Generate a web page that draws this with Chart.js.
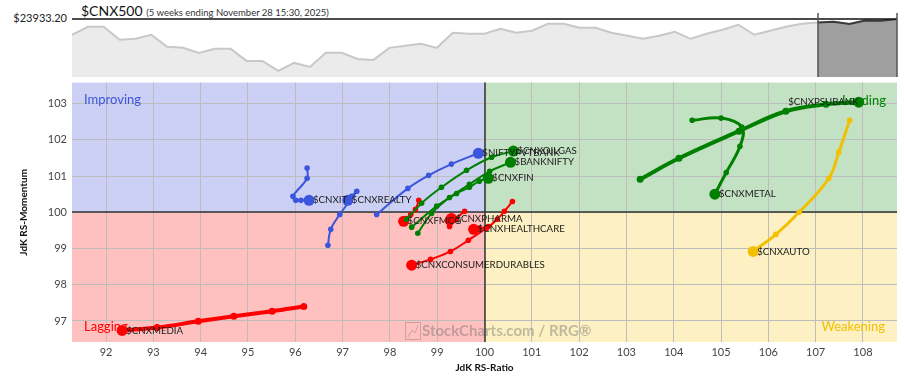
<!DOCTYPE html>
<html>
<head>
<meta charset="utf-8">
<script src="https://cdn.jsdelivr.net/npm/chart.js@4.4.1/dist/chart.umd.min.js"></script>
<style>
  body { margin: 0; width: 904px; height: 376px; background: #fff; font-family: Lato, sans-serif; position: relative; overflow: hidden; }
  #priceBox { position: absolute; left: 72px; top: 7px; width: 827px; height: 70px; }
  #rrgBox { position: absolute; left: 0; top: 71px; width: 904px; height: 305px; }
  .title { position: absolute; left: 81px; top: 2px; font-size: 14px; line-height: 17px; color: #111; white-space: nowrap; }
  .title small { font-size: 9.5px; color: #333; }
  .last { position: absolute; right: 837px; top: 11px; font-size: 11px; line-height: 13px; color: #222; }
</style>
</head>
<body>
<div class="title">$CNX500 <small>(5 weeks ending November 28 15:30, 2025)</small></div>
<div class="last">$23933.20</div>
<div id="priceBox"><canvas id="priceChart"></canvas></div>
<div id="rrgBox"><canvas id="rrgChart"></canvas></div>
<script>
// weekly closes of $CNX500 for the strip on top
const priceValues = [22715, 23336, 23336, 22327, 22404, 22715, 21783, 21706, 21318, 21628,
    21628, 20697, 20697, 19921, 20542, 20232, 21318, 21318, 20852, 20775,
    21706, 21861, 22016, 21706, 22870, 22793, 22793, 23181, 22870, 23025,
    23569, 23569, 23258, 23258, 22870, 22637, 22404, 22637, 22948, 22404,
    22793, 23103, 23491, 22715, 23025, 23336, 23569, 23670, 23724, 23545,
    23825, 23801, 23933.2];
const recentStart = 47; // start of the 5 week window (dark part)

// RRG tails, oldest -> latest
const symbols = ['$CNXIT', '$CNXREALTY', '$NIFTYPVTBANK', '$CNXOILGAS', '$BANKNIFTY', '$CNXFIN', '$CNXFMCG',
    '$CNXPHARMA', '$CNXHEALTHCARE', '$CNXCONSUMERDURABLES', '$CNXMEDIA', '$CNXPSUBANK', '$CNXMETAL', '$CNXAUTO'];

const itRatio = [96.25, 96.25, 95.95, 96.01, 96.12, 96.29];
const itMomentum = [101.22, 100.94, 100.44, 100.33, 100.33, 100.33];
const realtyRatio = [96.69, 96.75, 96.94, 97.30, 97.19, 97.11];
const realtyMomentum = [99.09, 99.53, 99.94, 100.58, 100.44, 100.33];
const pvtBankRatio = [97.72, 98.38, 98.82, 99.30, 99.87];
const pvtBankMomentum = [99.94, 100.66, 101.02, 101.33, 101.63];
const oilGasRatio = [98.35, 98.67, 99.09, 99.62, 100.15, 100.61];
const oilGasMomentum = [99.81, 100.25, 100.69, 101.16, 101.52, 101.69];
const bankNiftyRatio = [98.59, 98.88, 99.26, 99.68, 100.11, 100.55];
const bankNiftyMomentum = [99.42, 99.97, 100.41, 100.77, 101.13, 101.38];
const finRatio = [98.46, 98.99, 99.41, 99.68, 99.89, 100.08];
const finMomentum = [99.59, 100.17, 100.52, 100.69, 100.86, 100.94];
const fmcgRatio = [98.61, 98.54, 98.44, 98.35, 98.29];
const fmcgMomentum = [100.33, 100.08, 99.94, 99.83, 99.75];
const pharmaRatio = [99.58, 99.39, 99.26, 99.22, 99.30];
const pharmaMomentum = [100.03, 99.81, 99.61, 99.75, 99.83];
const healthRatio = [100.59, 100.42, 100.27, 100.08, 99.89, 99.77];
const healthMomentum = [100.30, 100.03, 99.81, 99.61, 99.56, 99.53];
const durablesRatio = [100.04, 99.66, 99.28, 98.86, 98.46];
const durablesMomentum = [99.56, 99.23, 98.92, 98.70, 98.54];
const mediaRatio = [96.18, 95.51, 94.70, 93.95, 93.08, 92.34];
const mediaMomentum = [97.40, 97.27, 97.13, 96.99, 96.82, 96.74];
const psuBankRatio = [103.29, 104.11, 105.38, 106.37, 107.22, 107.91];
const psuBankMomentum = [100.91, 101.49, 102.24, 102.79, 102.98, 103.04];
const metalRatio = [104.39, 105.00, 105.44, 105.40, 105.11, 104.87];
const metalMomentum = [102.54, 102.60, 102.35, 101.82, 101.10, 100.50];
const autoRatio = [107.72, 107.49, 107.28, 106.65, 106.16, 105.68];
const autoMomentum = [102.54, 101.66, 100.94, 100.00, 99.39, 98.92];

const ratios = [itRatio, realtyRatio, pvtBankRatio, oilGasRatio, bankNiftyRatio, finRatio, fmcgRatio,
    pharmaRatio, healthRatio, durablesRatio, mediaRatio, psuBankRatio, metalRatio, autoRatio];
const momentums = [itMomentum, realtyMomentum, pvtBankMomentum, oilGasMomentum, bankNiftyMomentum, finMomentum, fmcgMomentum,
    pharmaMomentum, healthMomentum, durablesMomentum, mediaMomentum, psuBankMomentum, metalMomentum, autoMomentum];
const lineWidths = [2, 2, 2, 2, 2, 2, 2, 2, 2, 2, 4, 4, 3, 3];

const xTicks = [92, 93, 94, 95, 96, 97, 98, 99, 100, 101, 102, 103, 104, 105, 106, 107, 108];
const yTicks = [97, 98, 99, 100, 101, 102, 103];

function quadrantColor(r, m) {
    if (r < 100 && m >= 100) return '#3b55dd'; // improving
    if (r >= 100 && m >= 100) return '#008000'; // leading
    if (r < 100) return '#ff0000'; // lagging
    return '#f2c000'; // weakening
}

// ---- price strip ----
const priceFrame = {
    id: 'priceFrame',
    afterDatasetsDraw(chart) {
        const { ctx, chartArea: a, scales: { x } } = chart;
        ctx.save();
        ctx.strokeStyle = '#111';
        ctx.lineWidth = 1.3;
        ctx.beginPath();
        ctx.moveTo(0, a.top);
        ctx.lineTo(a.right, a.top);
        ctx.stroke();
        ctx.strokeStyle = '#555';
        ctx.lineWidth = 1.5;
        [recentStart, priceValues.length - 1].forEach(i => {
            const px = Math.round(x.getPixelForValue(i));
            ctx.beginPath();
            ctx.moveTo(px, a.top - 6);
            ctx.lineTo(px, a.bottom);
            ctx.stroke();
        });
        ctx.restore();
    }
};

new Chart(document.getElementById('priceChart'), {
    type: 'line',
    data: {
        labels: priceValues.map((v, i) => i),
        datasets: [{
            data: priceValues.map((v, i) => i >= recentStart ? v : null),
            borderColor: '#3a3a3a',
            borderWidth: 2,
            backgroundColor: '#9f9f9f',
            fill: 'start',
            pointRadius: 0,
            tension: 0
        }, {
            data: priceValues,
            borderColor: '#c8c8c8',
            borderWidth: 2,
            backgroundColor: '#ebebeb',
            fill: 'start',
            pointRadius: 0,
            tension: 0
        }]
    },
    options: {
        responsive: true,
        maintainAspectRatio: false,
        animation: false,
        layout: { padding: { top: 12, right: 2 } },
        plugins: { legend: { display: false }, tooltip: { enabled: false } },
        scales: {
            x: { display: false, offset: false },
            y: { display: false, min: 19455, max: 23933.2 }
        }
    },
    plugins: [priceFrame]
});

// ---- RRG ----
const rrgDecor = {
    id: 'rrgDecor',
    beforeDraw(chart) {
        const { ctx, chartArea: a, scales: { x, y } } = chart;
        const cx = x.getPixelForValue(100), cy = y.getPixelForValue(100);
        ctx.save();
        ctx.fillStyle = '#ccd0f5';
        ctx.fillRect(a.left, a.top, cx - a.left, cy - a.top);
        ctx.fillStyle = '#c3e1c3';
        ctx.fillRect(cx, a.top, a.right - cx, cy - a.top);
        ctx.fillStyle = '#ffc0c0';
        ctx.fillRect(a.left, cy, cx - a.left, a.bottom - cy);
        ctx.fillStyle = '#fdf0c2';
        ctx.fillRect(cx, cy, a.right - cx, a.bottom - cy);
        ctx.restore();
    },
    beforeDatasetsDraw(chart) {
        const { ctx, chartArea: a, scales: { x, y } } = chart;
        const cx = Math.round(x.getPixelForValue(100)), cy = Math.round(y.getPixelForValue(100));
        ctx.save();
        ctx.strokeStyle = '#333';
        ctx.lineWidth = 1.5;
        ctx.beginPath();
        ctx.moveTo(cx, a.top); ctx.lineTo(cx, a.bottom);
        ctx.moveTo(a.left, cy); ctx.lineTo(a.right, cy);
        ctx.stroke();

        ctx.font = '13px Lato';
        ctx.textBaseline = 'middle';
        ctx.textAlign = 'left';
        ctx.fillStyle = '#3b55dd';
        ctx.fillText('Improving', a.left + 12, a.top + 17);
        ctx.fillStyle = '#ff0000';
        ctx.fillText('Lagging', a.left + 12, a.bottom - 15);
        ctx.textAlign = 'right';
        ctx.fillStyle = '#008000';
        ctx.fillText('Leading', a.right - 11, a.top + 18);
        ctx.fillStyle = '#f2c000';
        ctx.fillText('Weakening', a.right - 12, a.bottom - 15);

        // watermark
        const wx = cx - 80, wy = a.bottom - 11;
        ctx.globalAlpha = 0.4;
        ctx.strokeStyle = '#777';
        ctx.lineWidth = 1;
        ctx.strokeRect(wx + 0.5, wy - 8.5, 15, 17);
        ctx.beginPath();
        ctx.moveTo(wx + 3, wy + 6); ctx.lineTo(wx + 7, wy - 1); ctx.lineTo(wx + 10, wy + 2); ctx.lineTo(wx + 13, wy - 6);
        ctx.stroke();
        ctx.fillStyle = '#666';
        ctx.textAlign = 'left';
        ctx.font = 'bold 15px Lato';
        ctx.fillText('StockCharts.com / RRG\u00ae', wx + 17, wy);
        ctx.restore();
    },
    afterDatasetsDraw(chart) {
        const { ctx, scales: { x, y } } = chart;
        ctx.save();
        ctx.font = '9.7px Lato';
        ctx.fillStyle = '#1a1a1a';
        ctx.textBaseline = 'middle';
        symbols.forEach((s, i) => {
            const n = ratios[i].length - 1;
            const px = x.getPixelForValue(ratios[i][n]);
            const py = y.getPixelForValue(momentums[i][n]);
            if (s === '$CNXPSUBANK') {
                ctx.textAlign = 'right';
                ctx.fillText(s, px, py);
            } else {
                ctx.textAlign = 'left';
                ctx.fillText(s, px + 4, py);
            }
        });
        ctx.restore();
    }
};

const datasets = symbols.map((s, i) => {
    const n = ratios[i].length;
    const color = quadrantColor(ratios[i][n - 1], momentums[i][n - 1]);
    return {
        label: s,
        data: ratios[i].map((r, k) => ({ x: r, y: momentums[i][k] })),
        showLine: true,
        tension: 0.4,
        borderColor: color,
        backgroundColor: color,
        borderWidth: lineWidths[i],
        pointRadius: c => c.dataIndex === n - 1 ? 5.5 : (lineWidths[i] > 3 ? 3.5 : 2.8),
        pointBorderWidth: 0
    };
});

new Chart(document.getElementById('rrgChart'), {
    type: 'scatter',
    data: { datasets: datasets },
    options: {
        responsive: true,
        maintainAspectRatio: false,
        animation: false,
        layout: { padding: { top: 3, right: 7 } },
        plugins: { legend: { display: false }, tooltip: { enabled: false } },
        scales: {
            x: {
                type: 'linear',
                min: 91.28,
                max: 108.72,
                afterBuildTicks: sc => { sc.ticks = xTicks.map(v => ({ value: v })); },
                afterFit: sc => { sc.height = 34; },
                grid: { color: '#bdbdbd', lineWidth: 1, drawTicks: false },
                border: { display: false },
                ticks: { padding: 4, color: '#444', font: { family: 'Lato', size: 11 } },
                title: { display: true, text: 'JdK RS-Ratio', color: '#111', font: { family: 'Lato', size: 10, weight: 'bold' }, padding: { top: 0, bottom: 2 } }
            },
            y: {
                type: 'linear',
                min: 96.42,
                max: 103.58,
                afterBuildTicks: sc => { sc.ticks = yTicks.map(v => ({ value: v })); },
                afterFit: sc => { sc.width = 72; },
                grid: { color: '#bdbdbd', lineWidth: 1, drawTicks: false },
                border: { display: false },
                ticks: { padding: 5, color: '#444', font: { family: 'Lato', size: 11 } },
                title: { display: true, text: 'JdK RS-Momentum', color: '#111', font: { family: 'Lato', size: 10, weight: 'bold' }, padding: { top: 18, bottom: 0 } }
            }
        }
    },
    plugins: [rrgDecor]
});
</script>
</body>
</html>
